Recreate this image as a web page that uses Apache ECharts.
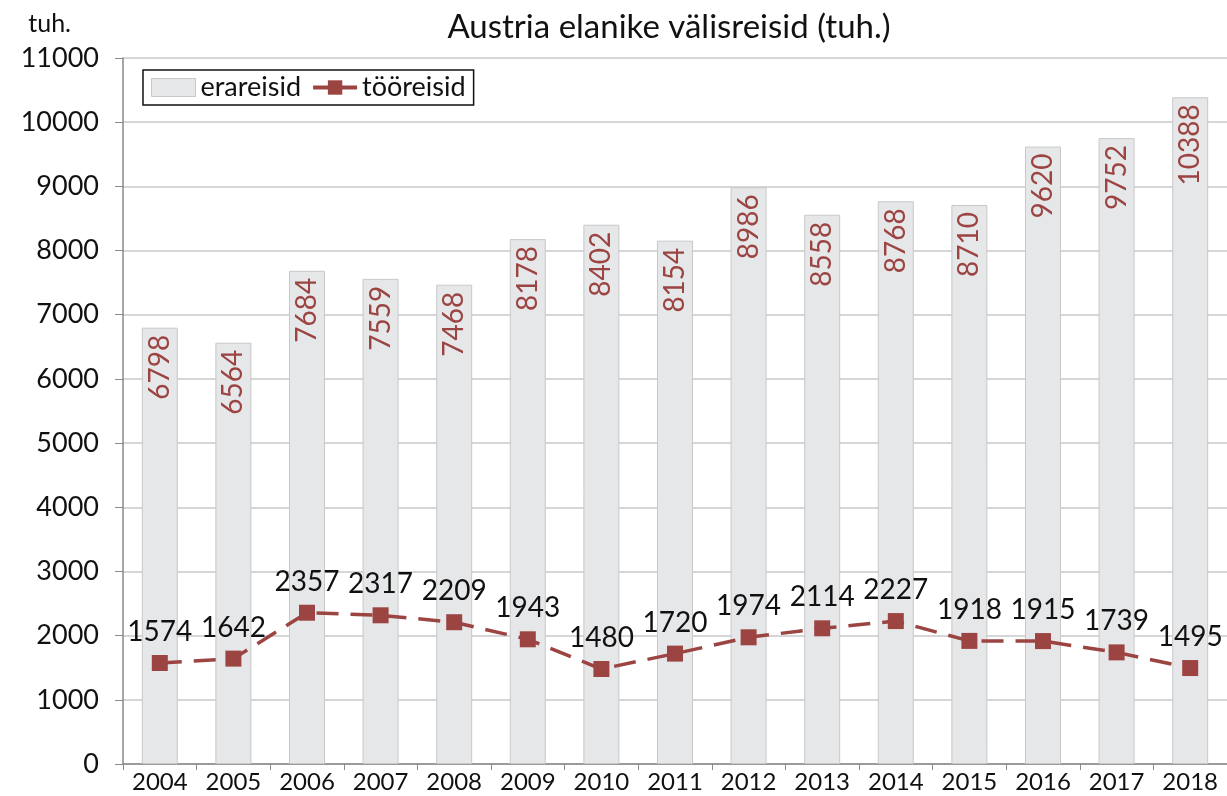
<!DOCTYPE html>
<html>
<head>
<meta charset="utf-8">
<script src="https://cdn.jsdelivr.net/npm/echarts@6/dist/echarts.min.js"></script>
<style>
  html, body { margin: 0; padding: 0; background: #fff; }
  #chart { width: 1227px; height: 796px; }
</style>
</head>
<body>
<div id="chart"></div>
<script>
// andmed
const years = ['2004', '2005', '2006', '2007', '2008', '2009', '2010', '2011', '2012', '2013', '2014', '2015', '2016', '2017', '2018'];
const erareisid = [6798, 6564, 7684, 7559, 7468, 8178, 8402, 8154, 8986, 8558, 8768, 8710, 9620, 9752, 10388];
const tooreisid = [1574, 1642, 2357, 2317, 2209, 1943, 1480, 1720, 1974, 2114, 2227, 1918, 1915, 1739, 1495];

const font = 'Lato';
const red = '#9b4442';

const chart = echarts.init(document.getElementById('chart'));
chart.setOption({
	animation: false,
	textStyle: { fontFamily: font },
	title: {
		text: 'Austria elanike välisreisid (tuh.)',
		left: 664,
		textAlign: 'center',
		top: 6,
		textStyle: { fontFamily: font, fontSize: 33, fontWeight: 'normal', color: '#111' }
	},
	legend: {
		left: 143,
		top: 70,
		padding: [4, 8, 4, 8],
		itemGap: 10,
		itemWidth: 44,
		itemHeight: 18,
		borderColor: '#111',
		borderWidth: 1.5,
		borderRadius: 0,
		textStyle: { fontFamily: font, fontSize: 27, color: '#111', padding: [0, 0, 0, 0] },
		data: [
			{ name: 'erareisid', icon: 'rect', itemStyle: { color: '#e6e7e9', borderColor: '#c8c8c8', borderWidth: 1 } },
			{ name: 'tööreisid', lineStyle: { type: 'solid', width: 4 } }
		]
	},
	grid: { left: 123, right: 0, top: 58, bottom: 32, containLabel: false },
	xAxis: {
		type: 'category',
		data: years,
		axisLine: { lineStyle: { color: '#888', width: 1.5 } },
		axisTick: { show: true, length: 6, lineStyle: { color: '#888' } },
		axisLabel: { interval: 0, fontSize: 24, color: '#111', margin: 6, fontFamily: font }
	},
	yAxis: {
		type: 'value',
		min: 0,
		max: 11000,
		interval: 1000,
		name: 'tuh.',
		nameLocation: 'end',
		nameGap: 22,
		nameTextStyle: { fontSize: 25, color: '#111', align: 'right', padding: [0, 52, 0, 0], fontFamily: font },
		axisLine: { show: true, lineStyle: { color: '#888', width: 1.5 } },
		axisTick: { show: true, length: 8, lineStyle: { color: '#888' } },
		axisLabel: { fontSize: 27, color: '#111', margin: 24, fontFamily: font, formatter: v => String(v) },
		splitLine: { lineStyle: { color: '#c8c8c8', width: 1.5 } }
	},
	series: [
		{
			name: 'erareisid',
			type: 'bar',
			data: erareisid,
			barWidth: 36,
			itemStyle: { color: '#e6e7e9', borderColor: '#c8c8c8', borderWidth: 1 },
			label: {
				show: true,
				position: 'insideTop',
				rotate: 90,
				align: 'right',
				verticalAlign: 'middle',
				distance: 7,
				fontSize: 28,
				color: red,
				fontFamily: font
			}
		},
		{
			name: 'tööreisid',
			type: 'line',
			data: tooreisid,
			symbol: 'rect',
			symbolSize: 16,
			itemStyle: { color: red },
			lineStyle: { color: red, width: 3.5, type: [22, 12] },
			label: {
				show: true,
				position: 'top',
				distance: 9,
				fontSize: 28,
				color: '#111',
				fontFamily: font
			}
		}
	]
});
</script>
</body>
</html>
